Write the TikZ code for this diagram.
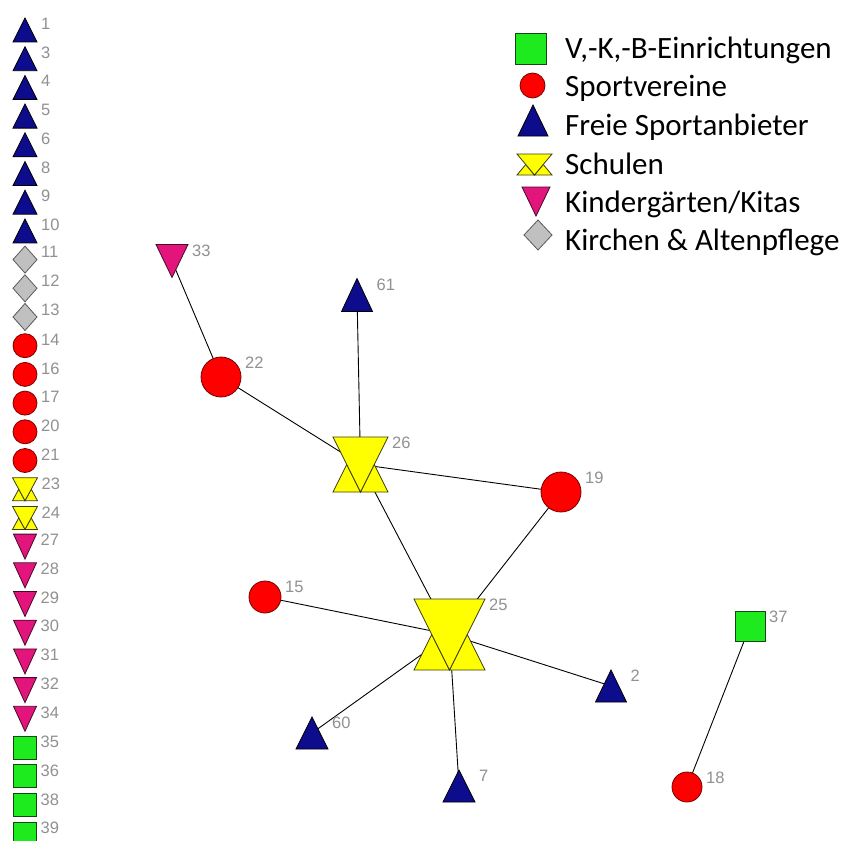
\documentclass[tikz,border=0pt]{standalone}
\usepackage{fontspec}
\setmainfont{Liberation Sans}
\newfontfamily\legfont{Carlito}
\usetikzlibrary{shapes.geometric,calc}
\pgfdeclarelayer{bg}
\pgfsetlayers{bg,main}
\definecolor{navyfill}{RGB}{12,12,140}
\definecolor{clubred}{RGB}{255,0,0}
\definecolor{clubline}{RGB}{120,0,0}
\definecolor{kitafill}{RGB}{228,20,125}
\definecolor{kitaline}{RGB}{70,10,40}
\definecolor{vkbfill}{RGB}{30,235,30}
\definecolor{vkbline}{RGB}{20,70,20}
\definecolor{schoolfill}{RGB}{255,255,0}
\definecolor{schoolline}{RGB}{60,60,20}
\definecolor{churchfill}{RGB}{192,192,192}
\definecolor{churchline}{RGB}{90,90,90}
\definecolor{labelgray}{RGB}{145,145,145}
\tikzset{
  box/.style 2 args={inner sep=0pt,outer sep=0pt,minimum width=#1,minimum height=#2},
  club/.style={circle,inner sep=0pt,outer sep=0pt,minimum size=#1,draw=clubline,fill=clubred,line width=0.8pt},
  vkb/.style={rectangle,inner sep=0pt,outer sep=0pt,minimum size=#1,draw=vkbline,fill=vkbfill,line width=0.8pt},
  church/.style 2 args={diamond,inner sep=0pt,outer sep=0pt,minimum width=#1,minimum height=#2,draw=churchline,fill=churchfill,line width=0.8pt},
  provider/.style={draw=black,fill=navyfill,line width=0.8pt},
  kita/.style={draw=kitaline,fill=kitafill,line width=0.8pt},
  school/.style={draw=schoolline,fill=schoolfill,line width=0.8pt},
  lbl/.style={text=labelgray,font=\fontsize{16.5}{16.5}\selectfont,inner sep=0pt,anchor=north west,xshift=4pt},
  edge/.style={draw=black,line width=0.9pt},
  legtext/.style={font=\legfont\fontsize{31}{31}\selectfont,inner sep=0pt,anchor=base west}
}
\newcommand\TriUp[1]{\path[provider] (#1.south west) -- (#1.south east) -- (#1.north) -- cycle;}
\newcommand\TriDn[1]{\path[kita] (#1.north west) -- (#1.north east) -- (#1.south) -- cycle;}
\newcommand\School[1]{%
  \path[school] (#1.south west) -- (#1.south) -- ($(#1.north west)!0.5!(#1.south)$) -- cycle;
  \path[school] (#1.south) -- (#1.south east) -- ($(#1.north east)!0.5!(#1.south)$) -- cycle;
  \path[school] (#1.north west) -- (#1.north east) -- (#1.south) -- cycle;}
\newcommand\Lab[2]{\node[lbl] (l#1) at (#1.east |- #1.north) {#2};}
\begin{document}
\begin{tikzpicture}[x=1pt,y=-1pt]
\useasboundingbox (0,0) rectangle (850,840);

% ---- left column ----
\node[box={24}{24}] (n1) at (25,30.0) {}; \TriUp{n1} \Lab{n1}{1}
\node[box={24}{24}] (n3) at (25,58.7) {}; \TriUp{n3} \Lab{n3}{3}
\node[box={24}{24}] (n4) at (25,87.4) {}; \TriUp{n4} \Lab{n4}{4}
\node[box={24}{24}] (n5) at (25,116.1) {}; \TriUp{n5} \Lab{n5}{5}
\node[box={24}{24}] (n6) at (25,144.8) {}; \TriUp{n6} \Lab{n6}{6}
\node[box={24}{24}] (n8) at (25,173.5) {}; \TriUp{n8} \Lab{n8}{8}
\node[box={24}{24}] (n9) at (25,202.2) {}; \TriUp{n9} \Lab{n9}{9}
\node[box={24}{24}] (n10) at (25,230.9) {}; \TriUp{n10} \Lab{n10}{10}
\node[church={24}{27}] (n11) at (25,259.6) {}; \Lab{n11}{11}
\node[church={24}{27}] (n12) at (25,288.3) {}; \Lab{n12}{12}
\node[church={24}{27}] (n13) at (25,317.0) {}; \Lab{n13}{13}
\node[club=24] (n14) at (25,345.7) {}; \Lab{n14}{14}
\node[club=24] (n16) at (25,374.4) {}; \Lab{n16}{16}
\node[club=24] (n17) at (25,403.1) {}; \Lab{n17}{17}
\node[club=24] (n20) at (25,431.8) {}; \Lab{n20}{20}
\node[club=24] (n21) at (25,460.5) {}; \Lab{n21}{21}
\node[box={25}{23}] (n23) at (25,489.2) {}; \School{n23} \Lab{n23}{23}
\node[box={25}{23}] (n24) at (25,517.9) {}; \School{n24} \Lab{n24}{24}
\node[box={23}{25}] (n27) at (25,546.6) {}; \TriDn{n27} \Lab{n27}{27}
\node[box={23}{25}] (n28) at (25,575.3) {}; \TriDn{n28} \Lab{n28}{28}
\node[box={23}{25}] (n29) at (25,604.0) {}; \TriDn{n29} \Lab{n29}{29}
\node[box={23}{25}] (n30) at (25,632.7) {}; \TriDn{n30} \Lab{n30}{30}
\node[box={23}{25}] (n31) at (25,661.4) {}; \TriDn{n31} \Lab{n31}{31}
\node[box={23}{25}] (n32) at (25,690.1) {}; \TriDn{n32} \Lab{n32}{32}
\node[box={23}{25}] (n34) at (25,718.8) {}; \TriDn{n34} \Lab{n34}{34}
\node[vkb=23] (n35) at (25,747.5) {}; \Lab{n35}{35}
\node[vkb=23] (n36) at (25,776.2) {}; \Lab{n36}{36}
\node[vkb=23] (n38) at (25,804.9) {}; \Lab{n38}{38}
\node[vkb=23] (n39) at (25,833.6) {}; \Lab{n39}{39}

% ---- network nodes (geometry) ----
\node[box={32}{33}] (n33) at (172,261) {};
\node[club=40] (n22) at (221,377) {};
\node[box={31}{33}] (n61) at (357,295) {};
\node[box={55}{55}] (n26) at (360.5,464.5) {};
\node[club=40] (n19) at (561,492) {};
\node[club=32] (n15) at (265,597) {};
\node[box={71}{71}] (n25) at (449.5,634.5) {};
\node[box={31}{32}] (n2) at (611,686) {};
\node[box={32}{32}] (n60) at (312,733) {};
\node[box={32}{32}] (n7) at (459,786) {};
\node[vkb=30] (n37) at (750,626) {};
\node[club=30] (n18) at (687,787) {};

\begin{pgfonlayer}{bg}
\fill[white] (0,0) rectangle (850,840);
\draw[edge] (n33.center) -- (n22.center);
\draw[edge] (n22.center) -- (n26.center);
\draw[edge] (n61.center) -- (n26.center);
\draw[edge] (n26.center) -- (n19.center);
\draw[edge] (n26.center) -- (n25.center);
\draw[edge] (n19.center) -- (n25.center);
\draw[edge] (n15.center) -- (n25.center);
\draw[edge] (n25.center) -- (n2.center);
\draw[edge] (n25.center) -- (n60.center);
\draw[edge] (n25.center) -- (n7.center);
\draw[edge] (n37.center) -- (n18.center);
\end{pgfonlayer}

\TriDn{n33} \TriUp{n61} \School{n26} \School{n25} \TriUp{n2} \TriUp{n60} \TriUp{n7}
\Lab{n33}{33} \Lab{n22}{22} \Lab{n61}{61} \Lab{n26}{26} \Lab{n19}{19} \Lab{n15}{15}
\Lab{n25}{25} \Lab{n2}{2} \Lab{n60}{60} \Lab{n7}{7} \Lab{n37}{37} \Lab{n18}{18}

% ---- legend ----
\node[vkb=31] (leg1) at (530.5,48.5) {};
\node[club=25] (leg2) at (532.5,85.5) {};
\node[box={30}{31}] (leg3) at (533,120.5) {}; \TriUp{leg3}
\node[box={35}{21}] (leg4) at (534.5,164.5) {}; \School{leg4}
\node[box={28}{29}] (leg5) at (536,201.5) {}; \TriDn{leg5}
\node[church={28}{30}] (leg6) at (538,235) {};
\node[legtext] (legt1) at (565,58.5) {V,-K,-B-Einrichtungen};
\node[legtext] (legt2) at (565,97) {Sportvereine};
\node[legtext] (legt3) at (565,135) {Freie Sportanbieter};
\node[legtext] (legt4) at (565,174) {Schulen};
\node[legtext] (legt5) at (565,212) {Kindergärten/Kitas};
\node[legtext] (legt6) at (565,250) {Kirchen \& Altenpflege};
\end{tikzpicture}
\end{document}
